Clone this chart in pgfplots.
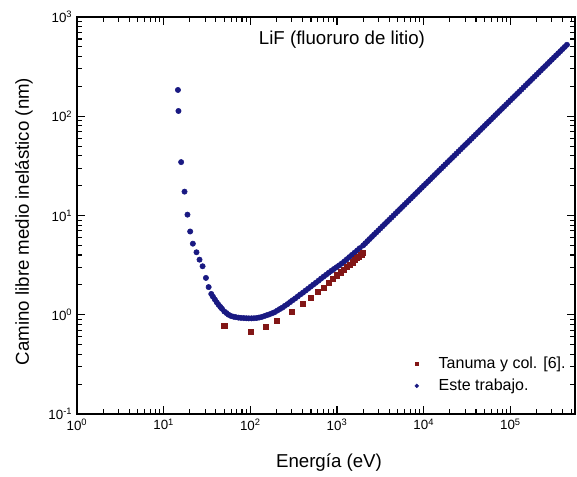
\documentclass[border=0pt]{standalone}
\usepackage{pgfplots}
\pgfplotsset{compat=1.18}
\usepackage{fontspec}
\setmainfont{Liberation Sans}
\definecolor{navyb}{RGB}{25,25,130}
\definecolor{dred}{RGB}{130,22,22}
\tikzset{majtk/.style={black, line width=0.9pt}, mintk/.style={black, line width=0.8pt}}
\begin{document}
\begin{tikzpicture}
\begin{axis}[
  name=ax,
  scale only axis,
  width=373.5pt, height=297.75pt,
  xmode=log, ymode=log,
  xmin=1, xmax=5.55e5,
  ymin=0.1, ymax=1000,
  axis line style={line width=0.9pt},
  major tick length=6pt,
  minor tick length=3.5pt,
  every major tick/.append style={black, line width=0.9pt},
  every minor tick/.append style={black, line width=0.8pt},
  xtick={1,10,100,1000,10000,100000},
  xticklabels={10\textsuperscript{0},10\textsuperscript{1},10\textsuperscript{2},10\textsuperscript{3},10\textsuperscript{4},10\textsuperscript{5}},
  ytick={0.1,1,10,100,1000},
  yticklabels={10\textsuperscript{-1},10\textsuperscript{0},10\textsuperscript{1},10\textsuperscript{2},10\textsuperscript{3}},
  tick label style={font=\fontsize{10}{12}\selectfont},
  xlabel={Energía (eV)},
  ylabel={Camino libre medio inelástico (nm)},
  xlabel style={at={(rel axis cs:0.506,-0.1235)}, anchor=center, font=\fontsize{14}{16}\selectfont},
  ylabel style={at={(rel axis cs:-0.1064,0.485)}, anchor=center, font=\fontsize{14}{16}\selectfont},
  legend style={at={(rel axis cs:0.995,0.158)}, anchor=north east, draw=none, fill=none,
    font=\fontsize{12}{14}\selectfont, row sep=2.5pt},
  legend cell align=left,
  legend image code/.code={\path[#1] plot[only marks, mark size=1.4pt] coordinates {(0.1cm,0cm)}; \path (0cm,0cm) (0.6cm,0cm);},
]
\addlegendimage{only marks, mark=square*, color=dred, mark options={draw=dred, fill=dred}}
\addlegendentry{Tanuma y col. [6].}
% Este trabajo
\addplot[only marks, mark=*, mark size=2pt, color=navyb, mark options={draw=navyb, fill=navyb}] coordinates {
(14.6,184) (14.8,113) (15.9,34.5) (17.4,17.4) (18.8,10.2) (20.2,6.9) (21.7,5.2)
(23.9,4.26) (25.9,3.59) (28.1,3.08) (30.7,2.35) (33,1.9) (35.4,1.62)
(37,1.52) (39,1.42) (41,1.33) (43,1.26) (45,1.20) (47,1.15) (50,1.08) (53,1.04)
(56,1.00) (60,0.97) (64,0.955) (68,0.945) (73,0.935) (78,0.93) (84,0.925) (90,0.922)
(96,0.92) (103,0.92) (110,0.922) (118,0.928) (126,0.937) (135,0.95) (145,0.97)
(155,0.99) (166,1.01) (178,1.035) (190,1.06) (204,1.10) (218,1.14) (234,1.18)
(250,1.23) (268,1.28) (287,1.34) (307,1.40) (329,1.46) (352,1.53) (377,1.60)
(404,1.67) (432,1.75) (463,1.83) (496,1.92) (531,2.01) (569,2.10) (609,2.20)
(652,2.31) (698,2.42) (748,2.53) (801,2.65) (858,2.77) (919,2.89) (984,3.01)
(1054,3.14) (1129,3.28) (1209,3.44) (1294,3.62) (1386,3.81) (1484,4.01)
(1590,4.22) (1703,4.44) (1823,4.68)
(2000,5.00) (2119,5.25) (2244,5.52) (2377,5.80) (2518,6.10) (2667,6.41) (2825,6.73) (2993,7.07)
(3170,7.43) (3358,7.81) (3557,8.20) (3768,8.62) (3991,9.06) (4228,9.52)
(4477,10.00) (4743,10.51) (5024,11.04) (5322,11.60) (5637,12.19) (5971,12.81)
(6325,13.46) (6700,14.14) (7096,14.86) (7517,15.61) (7962,16.41) (8434,17.24)
(8934,18.12) (9464,19.04) (10024,20.0) (10618,21.02) (11247,22.08) (11914,23.20)
(12619,24.38) (13367,25.62) (14159,26.92) (14999,28.29) (15887,29.72) (16829,31.23)
(17825,32.82) (18882,34.49) (20000,36.24) (21186,38.08) (22440,40.0) (23771,42.03)
(25179,44.2) (26672,46.44) (28251,48.8) (29926,51.28) (31698,53.8) (33578,56.53)
(35566,59.4) (37675,62.42) (39905,65.6) (42271,68.93) (44774,72.5) (47429,76.18)
(50238,80.0) (53217,84.06) (56368,88.3) (59711,92.79) (63246,97.6) (66997,102.6)
(70963,107.7) (75171,113.2) (79621,118.9) (84343,124.9) (89337,131.3) (94635,138.0)
(100237,145.0) (106181,152.4) (112468,160.0) (119138,168.1)
(126191,176.6) (133674,185.6) (141589,195.1) (149985,205.0) (158866,215.4) (168287,226.3)
(178250,237.8) (188820,249.9) (200000,262.4) (211860,275.7)
(224404,290.0) (237711,304.7) (251785,320.0) (266716,336.3) (282508,353.3) (299261,371.2)
(316979,390.1) (335776,409.9) (355656,430.7) (376746,452.6)
(399052,475.5) (422716,499.7) (447744,524.9)
};
\addlegendentry{Este trabajo.}
% Tanuma y col.
\addplot[only marks, mark=square*, mark size=1.9pt, color=dred, mark options={draw=dred, fill=dred}, forget plot] coordinates {
(50,0.77) (100,0.68) (150,0.76) (200,0.87) (300,1.08) (400,1.29) (500,1.47)
(600,1.69) (700,1.89) (800,2.09) (900,2.30) (1000,2.50) (1100,2.68) (1200,2.86)
(1300,3.04) (1400,3.21) (1500,3.38) (1600,3.55) (1700,3.72) (1800,3.88)
(1900,4.04) (2000,4.20)
};
% frame ticks
\pgfplotsinvokeforeach{1,10,100,1000,10000,100000}{
  \draw[majtk] (axis cs:#1,0.1) -- ++(0pt,6pt);
  \draw[majtk] (axis cs:#1,1000) -- ++(0pt,-6pt);
}
\pgfplotsinvokeforeach{2,3,4,5,6,7,8,9,20,30,40,50,60,70,80,90,200,300,400,500,600,700,800,900,2000,3000,4000,5000,6000,7000,8000,9000,20000,30000,40000,50000,60000,70000,80000,90000,200000,300000,400000,500000}{
  \draw[mintk] (axis cs:#1,0.1) -- ++(0pt,3.5pt);
  \draw[mintk] (axis cs:#1,1000) -- ++(0pt,-3.5pt);
}
\pgfplotsinvokeforeach{0.1,1,10,100,1000}{
  \draw[majtk] (axis cs:1,#1) -- ++(6pt,0pt);
  \draw[majtk] (axis cs:5.55e5,#1) -- ++(-6pt,0pt);
}
\pgfplotsinvokeforeach{0.2,0.3,0.4,0.5,0.6,0.7,0.8,0.9,2,3,4,5,6,7,8,9,20,30,40,50,60,70,80,90,200,300,400,500,600,700,800,900}{
  \draw[mintk] (axis cs:1,#1) -- ++(3.5pt,0pt);
  \draw[mintk] (axis cs:5.55e5,#1) -- ++(-3.5pt,0pt);
}
\node[font=\fontsize{14}{16}\selectfont] at (rel axis cs:0.532,0.942) {LiF (fluoruro de litio)};
\end{axis}
\path ([xshift=-57.75pt,yshift=-45.75pt]ax.south west) rectangle ([xshift=1.5pt,yshift=12.75pt]ax.north east);
\end{tikzpicture}
\end{document}
